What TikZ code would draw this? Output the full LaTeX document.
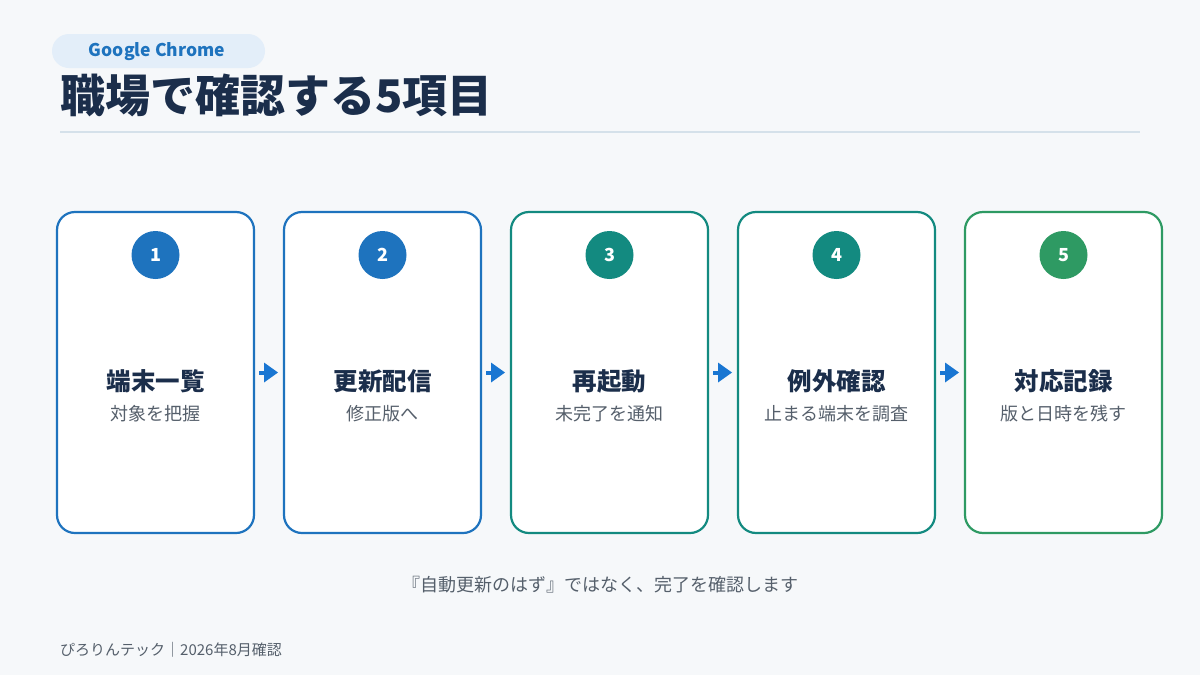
\documentclass[tikz,border=0pt]{standalone}
\usepackage{fontspec}
\setmainfont{Noto Sans CJK JP}
\definecolor{bg}{HTML}{F6F8FA}
\definecolor{navy}{HTML}{1B2E4B}
\definecolor{pill}{HTML}{E3EEF9}
\definecolor{cblue}{HTML}{1E73BE}
\definecolor{cteal}{HTML}{138A80}
\definecolor{cgreen}{HTML}{2E9A63}
\definecolor{sub}{HTML}{555F6B}
\definecolor{rule}{HTML}{D5E1EA}
\definecolor{arr}{HTML}{1976D2}
\tikzset{
 card/.style={draw=#1,line width=2.2pt,fill=white,rounded corners=18pt,minimum width=197pt,minimum height=321pt},
 num/.style={circle,fill=#1,minimum size=48pt,inner sep=0pt,text=white,font=\fontsize{18}{20}\selectfont\bfseries},
 ttl/.style={font=\fontsize{24.5}{28}\selectfont\bfseries,text=navy},
 sbt/.style={font=\fontsize{18}{21}\selectfont,text=sub},
 arrw/.style={fill=arr,draw=none}
}
\begin{document}
\begin{tikzpicture}[x=1pt,y=-1pt]
\fill[bg] (0,0) rectangle (1200,675);
\useasboundingbox (0,0) rectangle (1200,675);
\node[fill=pill,rounded corners=17pt,minimum width=213pt,minimum height=34pt] (pill) at (158.5,51) {};
\node[font=\fontsize{17.5}{20}\selectfont\bfseries,text=cblue] (pillt) at (157,52) {Google Chrome};
\node[anchor=west,font=\fontsize{45}{50}\selectfont\bfseries,text=navy,inner sep=0pt] (title) at (60,95) {職場で確認する5項目};
\draw[rule,line width=1.5pt] (60,132) -- (1140,132);
\foreach \i/\x/\c/\t/\s in {1/155.5/cblue/端末一覧/対象を把握,2/382.5/cblue/更新配信/修正版へ,3/609.5/cteal/再起動/未完了を通知,4/836.5/cteal/例外確認/止まる端末を調査,5/1063.5/cgreen/対応記録/版と日時を残す}{
 \node[card=\c] (c\i) at (\x,372.5) {};
 \node[num=\c] (n\i) at (\x,255) {\i};
 \node[ttl] (t\i) at (\x,381) {\t};
 \node[sbt] (s\i) at (\x,414) {\s};
}
\foreach \a/\b in {1/2,2/3,3/4,4/5}{
 \path (c\a.east) -- (c\b.west) coordinate[pos=0.5] (m\a);
 \fill[arrw] ([xshift=-10pt,yshift=-2pt]m\a) rectangle ([xshift=0pt,yshift=2pt]m\a);
 \fill[arrw] ([xshift=-5pt,yshift=-10pt]m\a) -- ([xshift=9pt]m\a) -- ([xshift=-5pt,yshift=10pt]m\a) -- cycle;
}
\node[font=\fontsize{18}{21}\selectfont,text=sub] (foot) at (600,585) {『自動更新のはず』ではなく、完了を確認します};
\node[anchor=west,font=\fontsize{15}{18}\selectfont,text=sub,inner sep=0pt] (brand) at (60,650) {ぴろりんテック｜2026年8月確認};
\end{tikzpicture}
\end{document}
